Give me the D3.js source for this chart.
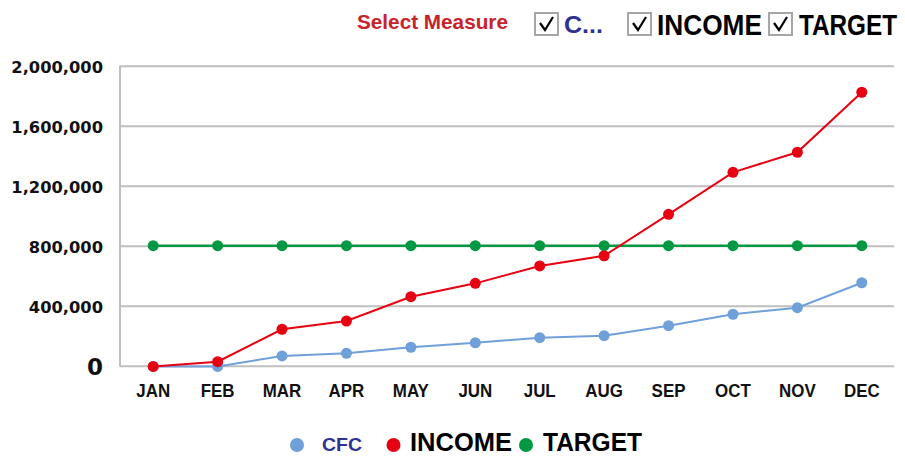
<!DOCTYPE html>
<html><head><meta charset="utf-8">
<script src="https://cdn.jsdelivr.net/npm/d3@7"></script>
<style>body{margin:0;background:#fff}svg{display:block}</style>
</head><body>
<svg id="c" width="905" height="456"></svg>
<script>
const months = ["JAN","FEB","MAR","APR","MAY","JUN","JUL","AUG","SEP","OCT","NOV","DEC"];
const cfc    = [-5000,-5000,65000,83000,123000,153000,187000,200000,267000,343000,387000,553000];
const income = [-5000,27000,243000,298000,460000,549000,665000,733000,1009000,1289000,1423000,1823000];
const target = [800000,800000,800000,800000,800000,800000,800000,800000,800000,800000,800000,800000];
const yTicks = [0,400000,800000,1200000,1600000,2000000];
const seriesNames = ["CFC","INCOME","TARGET"];
const seriesColors = ["#70a0da","#e60012","#009840"];

const svg = d3.select("#c");
const x = d3.scaleBand().domain(months).range([121,894]);
const y = d3.scaleLinear().domain([0,2000000]).range([365.7,65.7]);
const cx = m => x(m) + x.bandwidth()/2;

// gridlines
const yAxis = d3.axisLeft(y).tickValues(yTicks).tickSize(-(894-120)).tickFormat(d3.format(","));
const gy = svg.append("g").attr("transform","translate(120,0)").call(yAxis);
gy.select(".domain").attr("stroke","#bfbfbf").attr("stroke-width",2).attr("d","M0,65.7V366.7");
gy.selectAll(".tick line").attr("stroke","#bfbfbf").attr("stroke-width",2);
gy.selectAll(".tick text").attr("x",-17).attr("dy","0.4em")
  .attr("font-family","DejaVu Sans").attr("font-weight","bold")
  .attr("font-size",d=>d===0?23:16.3).attr("fill","#111");

// x labels
const xAxis = d3.axisBottom(x).tickSize(0);
const gx = svg.append("g").attr("transform","translate(0,366)").call(xAxis);
gx.select(".domain").remove();
gx.selectAll(".tick text").attr("y",31).attr("dy",0)
  .attr("font-family","Liberation Sans").attr("font-weight","bold")
  .attr("font-size",18).attr("fill","#111")
  .attr("transform","scale(0.94,1)");

// series
const data = [cfc, income, target];
const line = d3.line().x((d,i)=>cx(months[i])).y(d=>y(d));
[2,0,1].forEach(k=>{
  svg.append("path").datum(data[k]).attr("d",line).attr("fill","none")
    .attr("stroke",seriesColors[k]).attr("stroke-width",k===2?2.5:2);
  svg.append("g").selectAll("circle").data(data[k]).join("circle")
    .attr("cx",(d,i)=>cx(months[i])).attr("cy",d=>y(d)).attr("r",5.5)
    .attr("fill",seriesColors[k]);
});

function scaledText(g, txt, x0, y0, fs, w, color){
  const t = g.append("text").text(txt)
    .attr("font-family","Liberation Sans").attr("font-weight","bold").attr("font-size",fs)
    .attr("fill",color);
  const nat = t.node().getComputedTextLength();
  t.attr("transform",`translate(${x0},${y0}) scale(${w/nat},1)`);
  return t;
}

// top selector
scaledText(svg, "Select Measure", 357, 29, 21, 151, "#c8232b");
const boxes = [
  {bx:534, tx:564, tw:39, label:"C...", color:"#2e3192", fs:23, ty:33},
  {bx:627, tx:657, tw:105, label:"INCOME", color:"#000", fs:29, ty:35},
  {bx:768, tx:799, tw:98, label:"TARGET", color:"#000", fs:29, ty:35}
];
boxes.forEach(b=>{
  svg.append("rect").attr("x",b.bx+1).attr("y",13).attr("width",23).attr("height",22)
    .attr("fill","#fff").attr("stroke","#a6a6a6").attr("stroke-width",2);
  svg.append("path").attr("d",`M${b.bx+6},${23} L${b.bx+11},${30} L${b.bx+19},${17}`)
    .attr("fill","none").attr("stroke","#000").attr("stroke-width",2.2);
  scaledText(svg, b.label, b.tx, b.ty, b.fs, b.tw, b.color);
});

// bottom legend
const leg = [
  {c:297, tx:322, tw:40, fs:19, y:451, color:"#2e3192"},
  {c:393.5, tx:410, tw:102, fs:26, y:450.5, color:"#000"},
  {c:526, tx:543, tw:99, fs:26, y:450.5, color:"#000"}
];
leg.forEach((l,i)=>{
  svg.append("circle").attr("cx",l.c).attr("cy",445).attr("r",7).attr("fill",seriesColors[i]);
  scaledText(svg, seriesNames[i], l.tx, l.y, l.fs, l.tw, l.color);
});
</script>
</body></html>
